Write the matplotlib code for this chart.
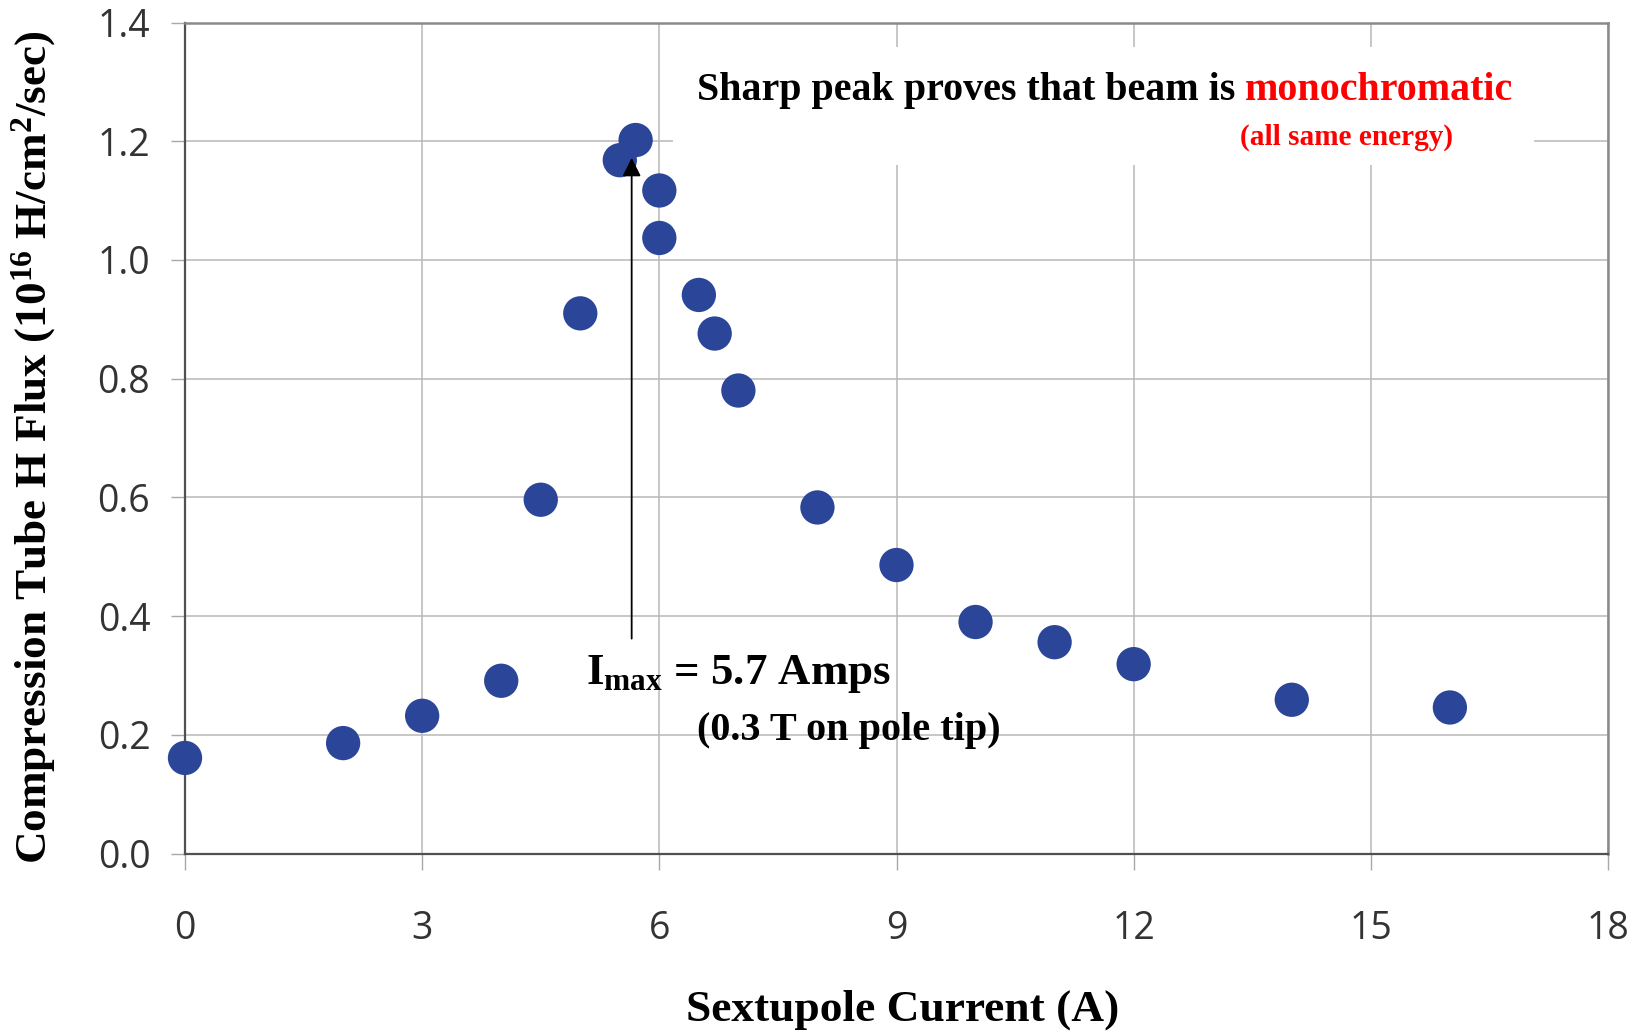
import matplotlib
matplotlib.use("Agg")
import matplotlib.pyplot as plt
from matplotlib.patches import Rectangle

# ---- data ----
current = [0, 2, 3, 4, 4.5, 5, 5.5, 5.7, 6, 6, 6.5, 6.7, 7, 8, 9, 10, 11, 12, 14, 16]
flux = [0.161, 0.186, 0.232, 0.291, 0.596, 0.910, 1.168, 1.202, 1.117, 1.037,
        0.941, 0.876, 0.780, 0.583, 0.486, 0.390, 0.356, 0.319, 0.259, 0.246]
x_ticks = [0, 3, 6, 9, 12, 15, 18]
y_ticks = [0.0, 0.2, 0.4, 0.6, 0.8, 1.0, 1.2, 1.4]
y_tick_labels = ["0.0", "0.2", "0.4", "0.6", "0.8", "1.0", "1.2", "1.4"]
arrow_x = 5.65
arrow_tail_y = 0.362
arrow_tip_y = 1.172

plt.rcParams['mathtext.fontset'] = 'custom'
plt.rcParams['mathtext.rm'] = 'Liberation Serif:bold'
plt.rcParams['mathtext.it'] = 'Liberation Serif:bold'
plt.rcParams['mathtext.bf'] = 'Liberation Serif:bold'
plt.rcParams['mathtext.default'] = 'rm'

W, H = 1650, 1034
fig = plt.figure(figsize=(W / 100, H / 100), dpi=100)
ax = fig.add_axes([185 / W, 1 - 853.5 / H, 1423 / W, 831 / H])

ax.set_xlim(0, 18)
ax.set_ylim(0, 1.4)
ax.set_xticks(x_ticks)
ax.set_yticks(y_ticks)
ax.set_yticklabels(y_tick_labels)

ax.grid(True, color='#b8b8b8', lw=1.1, zorder=0)
ax.set_axisbelow(True)

# white box behind the top annotation (hides gridlines)
ax.add_patch(Rectangle((0.343, 0.8285), 0.605, 0.142, transform=ax.transAxes,
                       facecolor='white', edgecolor='none', zorder=1))

ax.scatter(current, flux, s=610, color='#2B4699', edgecolors='none', zorder=4, clip_on=False)

for side in ['left', 'bottom']:
    ax.spines[side].set_color('#505050')
    ax.spines[side].set_linewidth(1.6)
for side in ['top', 'right']:
    ax.spines[side].set_color('#8a8a8a')
    ax.spines[side].set_linewidth(1.8)

ax.tick_params(axis='x', length=11.5, width=1.0, color='#a8a8a8', pad=29,
               labelsize=27, labelcolor='#333333')
ax.tick_params(axis='y', length=10, width=1.0, color='#a8a8a8', pad=15,
               labelsize=27, labelcolor='#333333')
for lab in ax.get_xticklabels() + ax.get_yticklabels():
    lab.set_fontfamily('Open Sans')

serif = 'Liberation Serif'

# axis labels
fig.text(34 / W, 1 - 447 / H, 'Compression Tube H Flux (10$^{16}$ H/cm$^{2}$/sec)',
         rotation=90, ha='center', va='center', family=serif, weight='bold',
         fontsize=32.5, color='black')
fig.text(903 / W, 1 - 1010 / H, 'Sextupole Current (A)', ha='center', va='center',
         family=serif, weight='bold', fontsize=32.7, color='black')

# arrow
ax.annotate('', xy=(arrow_x, arrow_tip_y), xytext=(arrow_x, arrow_tail_y),
            arrowprops=dict(arrowstyle='-|>', color='black', lw=1.3,
                            mutation_scale=28, shrinkA=0, shrinkB=0), zorder=5)

# top annotation
t1 = fig.text(697 / W, 1 - 100 / H, 'Sharp peak proves that beam is ', ha='left',
              va='baseline', family=serif, weight='bold', fontsize=28.8, color='black',
              zorder=6)
ax.annotate('monochromatic', xy=(1, 0), xycoords=t1, ha='left', va='bottom',
            family=serif, weight='bold', fontsize=28.8, color='#ff0000', zorder=6,
            annotation_clip=False)
fig.text(1346 / W, 1 - 137 / H, '(all same energy)', ha='center', va='center',
         family=serif, weight='bold', fontsize=21.1, color='#ff0000')

# I_max annotation
fig.text(586 / W, 1 - 684 / H, 'I$_{\\mathrm{max}}$ = 5.7 Amps', ha='left', va='baseline',
         family=serif, weight='bold', fontsize=32.3, color='black')
fig.text(697 / W, 1 - 740 / H, '(0.3 T on pole tip)', ha='left', va='baseline',
         family=serif, weight='bold', fontsize=29, color='black')

fig.savefig('out.png', dpi=100)
